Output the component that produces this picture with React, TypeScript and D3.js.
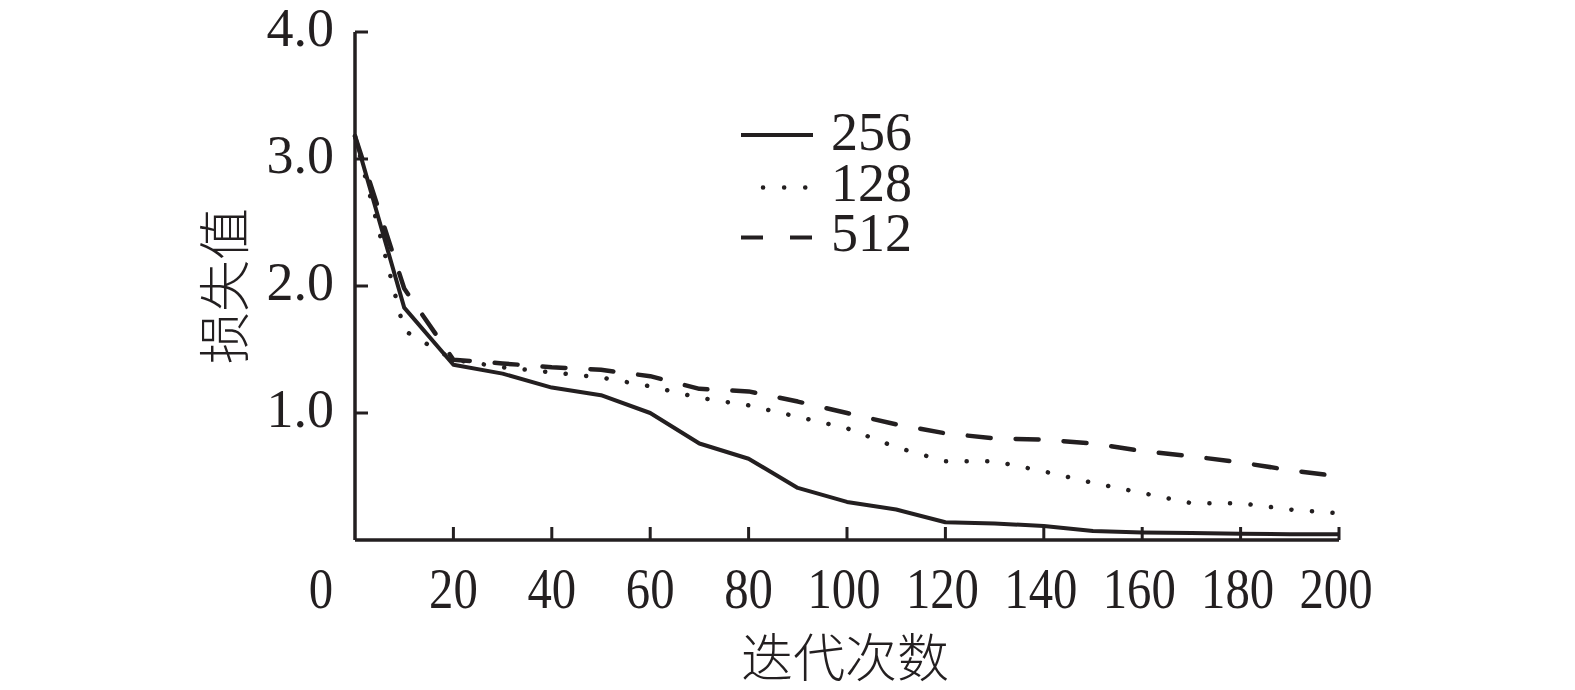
import React from "react";
import * as d3 from "d3";

const iterations = [0, 10, 20, 30, 40, 50, 60, 70, 80, 90, 100, 110, 120, 130, 140, 150, 160, 170, 180, 190, 200];
const loss256 = [3.18, 1.83, 1.38, 1.31, 1.2, 1.14, 1.0, 0.76, 0.64, 0.41, 0.3, 0.24, 0.14, 0.13, 0.11, 0.07, 0.06, 0.055, 0.05, 0.045, 0.045];
const loss128 = [3.18, 1.65, 1.42, 1.36, 1.32, 1.28, 1.21, 1.12, 1.06, 0.97, 0.88, 0.73, 0.62, 0.62, 0.54, 0.45, 0.37, 0.29, 0.29, 0.24, 0.21];
const loss512 = [3.18, 1.98, 1.42, 1.39, 1.36, 1.34, 1.29, 1.19, 1.17, 1.09, 1.0, 0.91, 0.84, 0.8, 0.79, 0.76, 0.7, 0.66, 0.61, 0.55, 0.5];

const xTicks = [0, 20, 40, 60, 80, 100, 120, 140, 160, 180, 200];
const yTicks = [1.0, 2.0, 3.0, 4.0];
const seriesNames = ["256", "128", "512"];
const xTitle = "迭代次数";
const yTitle = "损失值";

const W = 1575;
const H = 690;

export default function App() {
  const x = d3.scaleLinear().domain([0, 200]).range([355, 1339]);
  const y = d3.scaleLinear().domain([0, 4]).range([540, 32]);

  const mk = (vals: number[]) =>
    d3
      .line<number>()
      .x((_, i) => x(iterations[i]))
      .y((v) => y(v))
      .curve(d3.curveLinear)(vals) as string;

  const styles = [
    { dash: undefined as string | undefined, cap: "butt" as const, width: 4 },
    { dash: "0.1 20.5", cap: "round" as const, width: 4.5 },
    { dash: "23 25", cap: "round" as const, width: 4.5 },
  ];
  const paths = [mk(loss256), mk(loss128), mk(loss512)];

  const serif = "'Liberation Serif', 'Times New Roman', serif";
  const cjk = "'Noto Sans CJK SC', sans-serif";
  const col = "#231f20";

  return (
    <svg
      width={W}
      height={H}
      style={{ position: "absolute", left: 0, top: 0, background: "#fff" }}
    >
      {paths.map((d, i) => (
        <path
          key={i}
          d={d}
          fill="none"
          stroke={col}
          strokeWidth={styles[i].width}
          strokeDasharray={styles[i].dash}
          strokeLinecap={styles[i].cap}
          strokeLinejoin="round"
        />
      ))}

      <line x1={x(0)} x2={x(200)} y1={y(0)} y2={y(0)} stroke={col} strokeWidth={3.5} />
      <line x1={x(0)} x2={x(0)} y1={y(0)} y2={y(4)} stroke={col} strokeWidth={3.5} />
      {xTicks.filter((t) => t > 0).map((t) => (
        <line key={"xt" + t} x1={x(t)} x2={x(t)} y1={y(0)} y2={y(0) - 13} stroke={col} strokeWidth={3} />
      ))}
      {yTicks.map((t) => (
        <line key={"yt" + t} x1={x(0)} x2={x(0) + 13} y1={y(t)} y2={y(t)} stroke={col} strokeWidth={3} />
      ))}

      {xTicks.map((t) => {
        const cx = t === 0 ? x(0) - 34 : x(t) - (t >= 100 ? 3 : 0);
        return (
          <text
            key={"xl" + t}
            transform={`translate(${cx},608) scale(0.87,1)`}
            textAnchor="middle"
            fontFamily={serif}
            fontSize={56}
            fill={col}
          >
            {String(t)}
          </text>
        );
      })}

      {yTicks.map((t) => (
        <text
          key={"yl" + t}
          x={334}
          y={y(t) + 14}
          textAnchor="end"
          fontFamily={serif}
          fontSize={54}
          fill={col}
        >
          {t.toFixed(1)}
        </text>
      ))}

      <text
        x={845}
        y={654}
        textAnchor="middle"
        dominantBaseline="central"
        fontFamily={cjk}
        fontWeight={300}
        fontSize={52}
        fill={col}
      >
        {xTitle}
      </text>
      <text
        transform="translate(221,286) rotate(-90)"
        textAnchor="middle"
        dominantBaseline="central"
        fontFamily={cjk}
        fontWeight={300}
        fontSize={52}
        fill={col}
      >
        {yTitle}
      </text>

      {seriesNames.map((name, i) => {
        const ly = 135 + i * 50.5;
        return (
          <g key={"lg" + name}>
            {i === 0 && (
              <line x1={741} x2={813} y1={ly} y2={ly} stroke={col} strokeWidth={4} />
            )}
            {i === 1 && (
              <line
                x1={763}
                x2={806}
                y1={ly + 2}
                y2={ly + 2}
                stroke={col}
                strokeWidth={4.5}
                strokeDasharray="0.1 21"
                strokeLinecap="round"
              />
            )}
            {i === 2 && (
              <line
                x1={741}
                x2={813}
                y1={ly + 1.5}
                y2={ly + 1.5}
                stroke={col}
                strokeWidth={4}
                strokeDasharray="22 27"
              />
            )}
            <text x={831} y={ly + 15} fontFamily={serif} fontSize={54} fill={col}>
              {name}
            </text>
          </g>
        );
      })}
    </svg>
  );
}
